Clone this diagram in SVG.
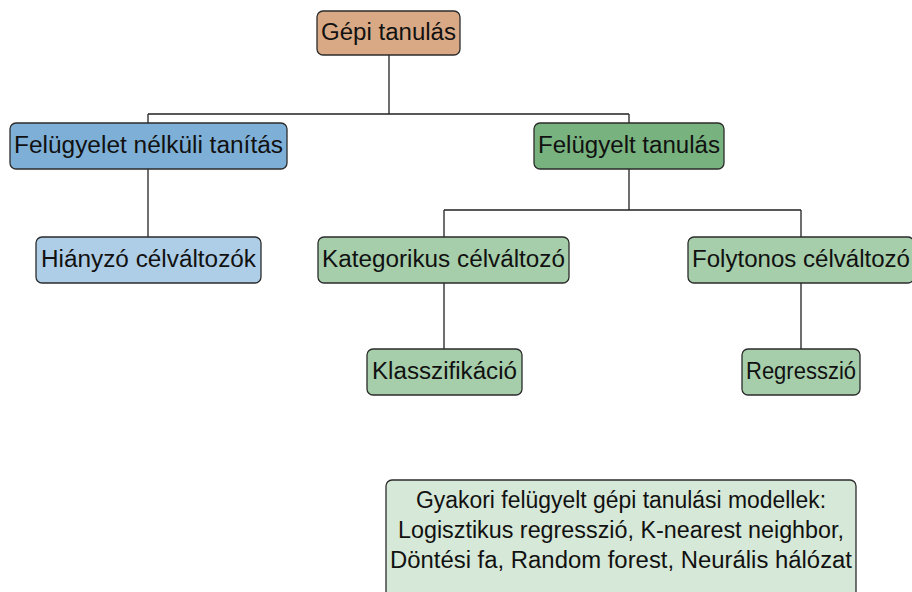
<svg xmlns="http://www.w3.org/2000/svg" width="912" height="592" viewBox="0 0 912 592">
  <style>
    .box { stroke: #2b2b2b; stroke-width: 1.3; }
    .lbl { font-family: "Liberation Sans", "DejaVu Sans", sans-serif; font-size: 23px; fill: #111; text-anchor: middle; }
    .edge { stroke: #222; stroke-width: 1.3; fill: none; }
  </style>
  <rect width="912" height="592" fill="#ffffff"/>

  <!-- tree connectors -->
  <g id="connectors">
    <path class="edge" d="M389 55 V114 M148 114 H629 M148 114 V123 M629 114 V123"/>
    <path class="edge" d="M148 169 V237"/>
    <path class="edge" d="M629 169 V210 M444 210 H801 M444 210 V237 M801 210 V237"/>
    <path class="edge" d="M444 283 V349 M801 283 V349"/>
  </g>

  <g id="gepi-tanulas">
    <rect class="box" x="317" y="11" width="143" height="44" rx="6" fill="#D9A985"/>
    <text class="lbl" x="388.5" y="40" textLength="135" lengthAdjust="spacingAndGlyphs">Gépi tanulás</text>
  </g>

  <g id="felugyelet-nelkuli">
    <rect class="box" x="10" y="123" width="277" height="46" rx="6" fill="#7EB0D7"/>
    <text class="lbl" x="148.5" y="153" textLength="269" lengthAdjust="spacingAndGlyphs">Felügyelet nélküli tanítás</text>
  </g>

  <g id="felugyelt-tanulas">
    <rect class="box" x="534" y="123" width="190" height="46" rx="6" fill="#78B37F"/>
    <text class="lbl" x="629" y="153" textLength="182" lengthAdjust="spacingAndGlyphs">Felügyelt tanulás</text>
  </g>

  <g id="hianyzo">
    <rect class="box" x="36" y="237" width="225" height="46" rx="6" fill="#AECEE7"/>
    <text class="lbl" x="148.5" y="267" textLength="215" lengthAdjust="spacingAndGlyphs">Hiányzó célváltozók</text>
  </g>

  <g id="kategorikus">
    <rect class="box" x="318" y="237" width="251" height="46" rx="6" fill="#A6CEAA"/>
    <text class="lbl" x="443.5" y="267" textLength="243" lengthAdjust="spacingAndGlyphs">Kategorikus célváltozó</text>
  </g>

  <g id="folytonos">
    <rect class="box" x="688" y="237" width="226" height="46" rx="6" fill="#A6CEAA"/>
    <text class="lbl" x="801" y="267" textLength="218" lengthAdjust="spacingAndGlyphs">Folytonos célváltozó</text>
  </g>

  <g id="klasszifikacio">
    <rect class="box" x="367" y="349" width="155" height="46" rx="6" fill="#A6CEAA"/>
    <text class="lbl" x="444.5" y="379" textLength="145" lengthAdjust="spacingAndGlyphs">Klasszifikáció</text>
  </g>

  <g id="regresszio">
    <rect class="box" x="742" y="349" width="118" height="46" rx="6" fill="#A6CEAA"/>
    <text class="lbl" x="801" y="379" textLength="110" lengthAdjust="spacingAndGlyphs">Regresszió</text>
  </g>

  <g id="modellek">
    <rect class="box" x="386" y="480" width="470" height="130" rx="6" fill="#D6E8D7"/>
    <text class="lbl" x="621" y="508" textLength="410" lengthAdjust="spacingAndGlyphs">Gyakori felügyelt gépi tanulási modellek:</text>
    <text class="lbl" x="621" y="538" textLength="446" lengthAdjust="spacingAndGlyphs">Logisztikus regresszió, K-nearest neighbor,</text>
    <text class="lbl" x="621" y="568" textLength="462" lengthAdjust="spacingAndGlyphs">Döntési fa, Random forest, Neurális hálózat</text>
  </g>
</svg>
